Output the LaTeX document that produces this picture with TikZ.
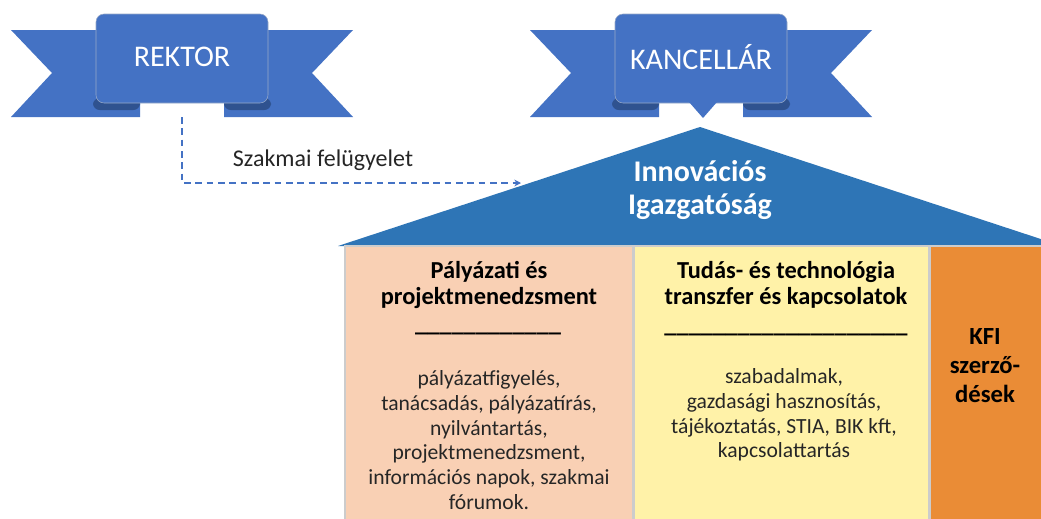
\documentclass[tikz,border=0pt]{standalone}
\usepackage{fontspec}
\setmainfont{Carlito}
\usetikzlibrary{arrows.meta}

\definecolor{ribbonblue}{HTML}{4472C4}
\definecolor{folddark}{HTML}{2F528F}
\definecolor{roofblue}{HTML}{2E75B6}
\definecolor{peach}{HTML}{F9D0B4}
\definecolor{paleyellow}{HTML}{FFF2A8}
\definecolor{kfiorange}{HTML}{EA8C36}
\definecolor{txtgray}{HTML}{262626}

\tikzset{
  ribbontxt/.style={text=white, font={\fontsize{22.5}{26}\selectfont}},
  rooftxt/.style={text=white, align=center, font={\bfseries\fontsize{22.5}{25}\selectfont}},
  headtxt/.style={align=center, text=black, font={\bfseries\fontsize{18.3}{19.5}\selectfont}},
  bodytxt/.style={align=center, text=txtgray, font={\fontsize{16.2}{18.6}\selectfont}},
  column/.style={draw=black!20, line width=0.8pt}
}

\begin{document}
\begin{tikzpicture}[x=0.75pt,y=-0.75pt]
\clip (0,0) rectangle (1041,518);
\fill[white] (0,0) rectangle (1041,518);

% roof and columns
\fill[roofblue] (338,246) -- (700,127) -- (1062,246) -- cycle;
\filldraw[column, fill=peach] (345,246) rectangle (633,530);
\filldraw[column, fill=paleyellow] (634,246) rectangle (929,530);
\filldraw[column, fill=kfiorange] (930,246) rectangle (1050,530);

% ribbons
\foreach \cx/\name/\txt in {182/rektor/REKTOR, 701/kancellar/KANCELLÁR}{
  \fill[ribbonblue] (\cx-171,30) -- (\cx-42,30) -- (\cx-42,117) -- (\cx-171,117) -- (\cx-130,73) -- cycle;
  \fill[ribbonblue] (\cx+171,30) -- (\cx+42,30) -- (\cx+42,117) -- (\cx+171,117) -- (\cx+130,73) -- cycle;
  \fill[folddark, rounded corners=5] (\cx-89,98) rectangle (\cx-42,110);
  \fill[folddark, rounded corners=5] (\cx+42,98) rectangle (\cx+89,110);
  \filldraw[fill=ribbonblue, draw=folddark!50, line width=0.4pt, rounded corners=6] (\cx-86,14) rectangle (\cx+86,103);
  \node[ribbontxt] (\name) at (\cx,57) {\txt};
}
% pointer under the chancellor
\fill[ribbonblue] (689,102) -- (717,102) -- (703,118) -- cycle;

\node[rooftxt] (igazg) at (700,190) {Innovációs\\Igazgatóság};

% supervision link
\coordinate (felugy) at (521,183);
\node[text=txtgray, font={\fontsize{18}{21}\selectfont}] (szakmai) at (323,160) {Szakmai felügyelet};
\draw[ribbonblue, line width=1pt, dash pattern=on 5pt off 3.5pt, -{Stealth[length=5pt,width=5pt]}]
  (rektor.center |- 0,117) -- (rektor.center |- felugy) -- (felugy);

% column texts
\node[headtxt] (palyhead) at (489,285) {Pályázati és\\projektmenedzsment};
\node[headtxt, anchor=base] (palyrule) at (488,331) {\_\_\_\_\_\_\_\_\_\_\_\_};
\node[bodytxt] (palybody) at (489,440) {pályázatfigyelés,\\tanácsadás, pályázatírás,\\nyilvántartás,\\projektmenedzsment,\\információs napok, szakmai\\fórumok.};

\node[headtxt] (tudhead) at (786,285) {Tudás- és technológia\\transzfer és kapcsolatok};
\node[headtxt, anchor=base] (tudrule) at (786,332) {\_\_\_\_\_\_\_\_\_\_\_\_\_\_\_\_\_\_\_\_};
\node[bodytxt] (tudbody) at (784,415) {szabadalmak,\\gazdasági hasznosítás,\\tájékoztatás, STIA, BIK kft,\\kapcsolattartás};

\node[headtxt, font={\bfseries\fontsize{18.5}{21.7}\selectfont}] (kfi) at (985,366) {KFI\\szerző-\\dések};
\end{tikzpicture}
\end{document}
